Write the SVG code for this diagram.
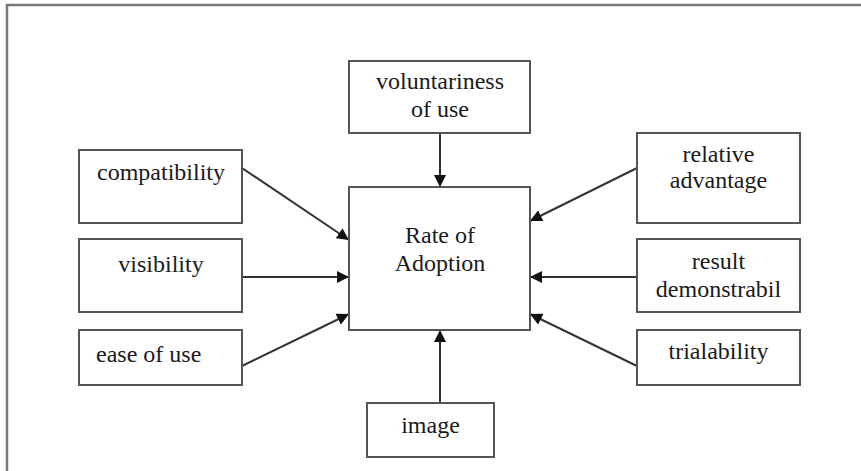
<svg xmlns="http://www.w3.org/2000/svg" width="861" height="471" viewBox="0 0 861 471">
<defs>
<style>
.box{fill:#fff;stroke:#555;stroke-width:2}
.t{font-family:"Liberation Serif","Times New Roman",serif;font-size:24px;fill:#1a1a1a;text-anchor:middle}
.c{stroke:#333;stroke-width:2;fill:none;marker-end:url(#ah)}
.frame{fill:none;stroke:#777;stroke-width:2.5}
</style>
<marker id="ah" viewBox="0 0 10 10" refX="10" refY="5" markerWidth="6" markerHeight="6" markerUnits="strokeWidth" orient="auto">
<path d="M0,0 L10,5 L0,10 z" fill="#111"/>
</marker>
</defs>
<rect width="861" height="471" fill="#fff"/>
<path class="frame" d="M7,471 V5 H861"/>
<g id="connectors">
<line class="c" x1="242" y1="168" x2="349" y2="240"/>
<line class="c" x1="242" y1="277" x2="349" y2="277"/>
<line class="c" x1="242" y1="366" x2="349" y2="314"/>
<line class="c" x1="440" y1="133" x2="440" y2="187"/>
<line class="c" x1="637" y1="168" x2="530" y2="221"/>
<line class="c" x1="637" y1="277" x2="530" y2="277"/>
<line class="c" x1="637" y1="366" x2="530" y2="314"/>
<line class="c" x1="440" y1="403" x2="440" y2="330"/>
</g>
<g id="rate">
<rect class="box" x="349" y="187" width="181" height="143"/>
<text class="t" x="440" y="243">Rate of</text>
<text class="t" x="440" y="271">Adoption</text>
</g>
<g id="voluntariness">
<rect class="box" x="349" y="61" width="181" height="72"/>
<text class="t" x="440" y="89">voluntariness</text>
<text class="t" x="440" y="117">of use</text>
</g>
<g id="compatibility">
<rect class="box" x="79" y="150" width="163" height="73"/>
<text class="t" x="161" y="180">compatibility</text>
</g>
<g id="visibility">
<rect class="box" x="79" y="239" width="163" height="73"/>
<text class="t" x="161" y="272">visibility</text>
</g>
<g id="ease">
<rect class="box" x="79" y="330" width="163" height="55"/>
<text class="t" x="96" y="362" style="text-anchor:start">ease of use</text>
</g>
<g id="relative">
<rect class="box" x="637" y="133" width="163" height="90"/>
<text class="t" x="718.5" y="162">relative</text>
<text class="t" x="718.5" y="188">advantage</text>
</g>
<g id="result">
<rect class="box" x="637" y="239" width="163" height="73"/>
<text class="t" x="718.5" y="269">result</text>
<text class="t" x="718.5" y="297">demonstrabil</text>
</g>
<g id="trialability">
<rect class="box" x="637" y="330" width="163" height="55"/>
<text class="t" x="718.5" y="359">trialability</text>
</g>
<g id="image">
<rect class="box" x="367" y="403" width="127" height="54"/>
<text class="t" x="430.5" y="433">image</text>
</g>
</svg>
